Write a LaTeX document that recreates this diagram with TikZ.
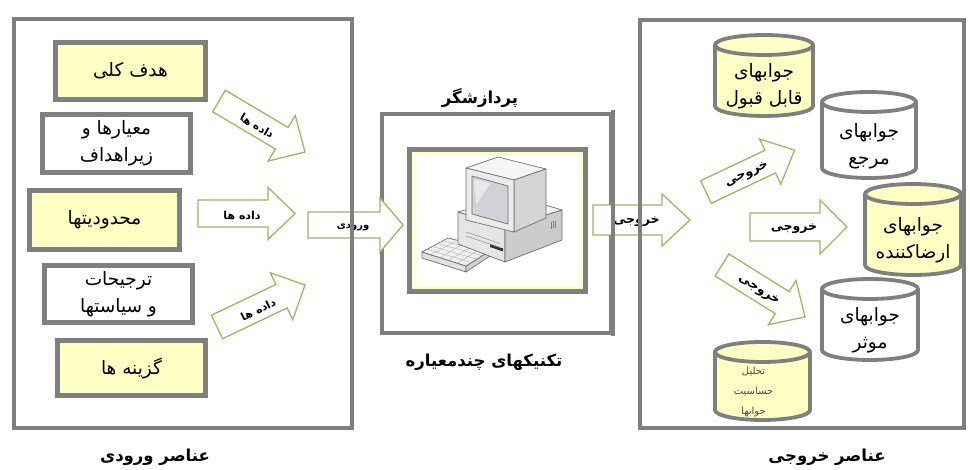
\documentclass[tikz,border=0pt]{standalone}
\usepackage{fontspec}
\usetikzlibrary{calc}
\TeXXeTstate=1
\newfontfamily\persianfont[Script=Arabic]{DejaVu Sans}
\newcommand\rl[1]{\beginR #1\endR}
\definecolor{framegray}{HTML}{7F7F7F}
\definecolor{paleyel}{HTML}{FFFFC4}
\definecolor{arrowgreen}{HTML}{9BBB59}
\definecolor{pcline}{HTML}{6E6E6E}

% block arrow: name, tail point, angle, length, shaft width, head width, head length, label
\newcommand\blockarrow[8]{%
  \begin{scope}[shift={#2}, rotate=#3]
    \draw[arrowline] (0,{-#5/2}) -- ({#4-#7},{-#5/2}) -- ({#4-#7},{-#6/2}) -- (#4,0)
      -- ({#4-#7},{#6/2}) -- ({#4-#7},{#5/2}) -- (0,{#5/2}) -- cycle;
    \node[arrowtext, rotate=#3] (#1) at ({(#4-#7)/2+9},-2) {#8};
  \end{scope}}

% drum (database) shape: name, cx, cy, width, height, fill, text style, text
\newcommand\drum[8]{%
  \path[drumline, fill=#6] ({#2-#4/2},{#3+#5/2-10}) -- ({#2-#4/2},{#3-#5/2+10})
    arc[start angle=180, end angle=360, x radius=#4/2, y radius=10]
    -- ({#2+#4/2},{#3+#5/2-10})
    arc[start angle=0, end angle=180, x radius=#4/2, y radius=10] -- cycle;
  \draw[drumline] ({#2-#4/2},{#3+#5/2-10})
    arc[start angle=180, end angle=360, x radius=#4/2, y radius=10];
  \node[#7] (#1) at (#2,{#3-11}) {#8};}

\newcommand\outsize{\fontsize{12.5}{14}\selectfont}

\tikzset{
  panel/.style={draw=framegray, line width=3.5pt},
  itembox/.style={draw=framegray, line width=5pt, fill=paleyel, align=center,
    font=\persianfont\fontsize{18.5}{27}\selectfont, inner sep=0pt},
  whitebox/.style={itembox, fill=white},
  arrowline/.style={draw=arrowgreen, line width=1.3pt, fill=white, line join=miter},
  arrowtext/.style={font=\persianfont\bfseries\fontsize{11}{12}\selectfont, inner sep=0pt},
  heading/.style={font=\persianfont\bfseries\fontsize{16.5}{18}\selectfont, inner sep=0pt},
  drumline/.style={draw=framegray, line width=3.8pt, line join=round},
  drumtext/.style={align=center, font=\persianfont\fontsize{18.5}{27}\selectfont, inner sep=0pt},
  smalldrumtext/.style={align=center, text=black!70, font=\persianfont\fontsize{10}{20}\selectfont, inner sep=0pt, xshift=-9pt},
  pcface/.style={draw=pcline, line width=0.7pt, line join=round}
}

\begin{document}
\begin{tikzpicture}[x=1pt, y=1pt]
\useasboundingbox (0,0) rectangle (970,470);
\fill[white] (0,0) rectangle (970,470);

% ---- processor block ----
\node[panel, fill=white, minimum width=229pt, minimum height=219pt] (proc) at (496.5,246.5) {};
\node[draw=framegray, line width=5pt, fill=paleyel, minimum width=176pt, minimum height=142pt] (cpu) at (497.5,249.5) {};
\fill[white] ([shift={(8pt,8pt)}]cpu.south west) rectangle ([shift={(-8pt,-8pt)}]cpu.north east);

% desktop computer drawn in pixel coordinates (y downwards)
\begin{scope}[shift={(0,470)}, yscale=-1]
  % keyboard
  \draw[pcface, fill=black!12] (422,252) -- (466,266) -- (466,272) -- (422,258) -- cycle;
  \draw[pcface, fill=black!18] (466,266) -- (493,249) -- (493,254) -- (466,272) -- cycle;
  \draw[pcface, fill=blue!4!black!6] (422,252) -- (448,238) -- (493,249) -- (466,266) -- cycle;
  \foreach \t in {0.2,0.4,0.6,0.8}{
    \draw[black!30, line width=0.4pt] ($(422,252)!\t!(448,238)$) -- ($(466,266)!\t!(493,249)$);
    \draw[black!30, line width=0.4pt] ($(422,252)!\t!(466,266)$) -- ($(448,238)!\t!(493,249)$);
  }
  % system unit
  \draw[pcface, fill=black!5] (458,212) -- (515,196) -- (562,210) -- (505,228) -- cycle;
  \draw[pcface, fill=black!10] (458,212) -- (505,228) -- (505,262) -- (458,244) -- cycle;
  \draw[pcface, fill=black!20] (505,228) -- (562,210) -- (562,240) -- (505,262) -- cycle;
  \fill[black!80] (490,244) -- (503,248.5) -- (503,251.5) -- (490,247) -- cycle;
  \draw[black!45, line width=0.5pt] (466,232) -- (500,243.5);
  \draw[black!45, line width=0.5pt] (466,236) -- (500,247.5);
  \foreach \k in {0,1,2}{\draw[black!50, line width=0.6pt] ({551+\k*2},{222-\k*0.7}) -- ({551+\k*2},{229-\k*0.7});}
  % monitor
  \draw[pcface, fill=black!4] (466,168) -- (498,157) -- (546,169) -- (514,180) -- cycle;
  \draw[pcface, fill=black!17] (514,180) -- (546,169) -- (546,218) -- (514,232) -- cycle;
  \draw[pcface, fill=black!8] (466,168) -- (514,180) -- (514,232) -- (466,220) -- cycle;
  \draw[pcface, fill=blue!10!black!18] (472,176) -- (508,186) -- (508,224) -- (472,214) -- cycle;
  \fill[white, opacity=0.5] (474,179) -- (490,183.5) -- (476,205) -- cycle;
\end{scope}

% ---- arrows between the blocks ----
\blockarrow{inarrow}{(308,245)}{0}{95}{26}{54}{23}{\fontsize{10}{11}\selectfont\rl{ورودی}}
\blockarrow{outarrow}{(593,250)}{0}{97}{30}{52}{28}{\outsize\rl{خروجی}}

% ---- frames of the input and output groups ----
\node[panel, minimum width=338pt, minimum height=409pt] (inputs) at (183,246.5) {};
\node[panel, minimum width=324pt, minimum height=408pt] (outputs) at (802,246) {};
\draw[panel] ([yshift=1.75pt]proc.north east) -- ([yshift=-1.75pt]proc.south east);

% ---- input elements ----
\node[itembox, minimum width=150pt, minimum height=57pt] (goal) at (130.5,399) {\rl{هدف کلی}};
\node[whitebox, minimum width=148pt, minimum height=58pt] (criteria) at (116.5,326.5) {\rl{معیارها و}\\\rl{زیراهداف}};
\node[itembox, minimum width=150pt, minimum height=59pt] (limits) at (104.5,250) {\rl{محدودیتها}};
\node[whitebox, minimum width=148pt, minimum height=57pt] (prefs) at (118.5,176) {\rl{ترجیحات}\\\rl{و سیاستها}};
\node[itembox, minimum width=148pt, minimum height=55pt] (options) at (131.5,102) {\rl{گزینه ها}};

\blockarrow{data1}{(219,369)}{-30.7}{100}{25}{53}{27}{\rl{داده ها}}
\blockarrow{data2}{(198,256.5)}{0}{97}{27}{52}{27}{\rl{داده ها}}
\blockarrow{data3}{(217,143)}{25.5}{97.5}{26}{52}{26}{\rl{داده ها}}

% ---- output elements ----
\drum{acceptable}{764}{394.5}{98}{81}{paleyel}{drumtext}{\rl{جوابهای}\\\rl{قابل قبول}}
\drum{reference}{869}{335}{94}{86}{white}{drumtext}{\rl{جوابهای}\\\rl{مرجع}}
\drum{satisfying}{913}{240.5}{96}{91}{paleyel}{drumtext}{\rl{جوابهای}\\\rl{ارضاکننده}}
\drum{effective}{870}{150.5}{96}{81}{white}{drumtext}{\rl{جوابهای}\\\rl{موثر}}
\drum{sensitivity}{762.5}{89}{95}{78}{paleyel}{smalldrumtext}{\rl{تحلیل}\\\rl{حساسیت}\\\rl{جوابها}}

\blockarrow{out1}{(706,278)}{25.3}{98}{25}{50}{27}{\outsize\rl{خروجی}}
\blockarrow{out2}{(750,243)}{0}{97}{28}{54}{27}{\outsize\rl{خروجی}}
\blockarrow{out3}{(722,205)}{-32}{98}{26}{52}{27}{\outsize\rl{خروجی}}

% ---- headings ----
\node[heading] (inlabel) at (155,13) {\rl{عناصر ورودی}};
\node[heading] (proclabel) at (480,372) {\rl{پردازشگر}};
\node[heading] (mcdmlabel) at (484,108) {\rl{تکنیکهای چندمعیاره}};
\node[heading] (outlabel) at (827,13) {\rl{عناصر خروجی}};
\end{tikzpicture}
\end{document}
